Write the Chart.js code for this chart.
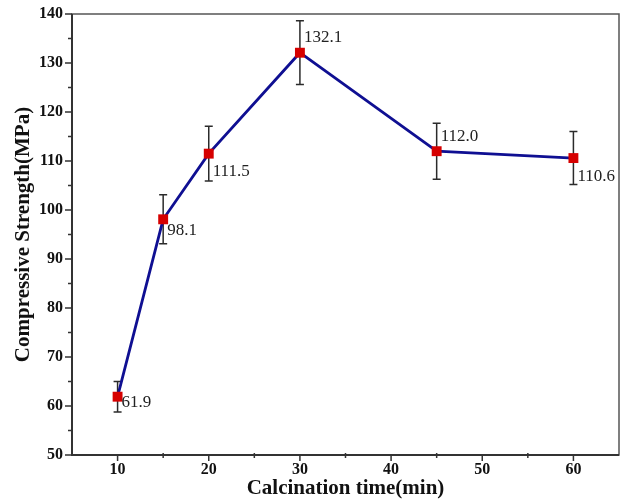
<!DOCTYPE html>
<html>
<head>
<meta charset="utf-8">
<script src="https://cdn.jsdelivr.net/npm/chart.js@4/dist/chart.umd.min.js"></script>
<style>
  html, body { margin: 0; padding: 0; background: #fff; }
  #wrap { width: 628px; height: 499px; }
</style>
</head>
<body>
<div id="wrap"><canvas id="chart"></canvas></div>
<script>
// Data
const times = [10, 15, 20, 30, 45, 60];
const strength = [61.9, 98.1, 111.5, 132.1, 112.0, 110.6];
const errors = [3.1, 5.0, 5.6, 6.5, 5.7, 5.4];
const xTicks = [10, 20, 30, 40, 50, 60];
const yTicks = [50, 60, 70, 80, 90, 100, 110, 120, 130, 140];
const xMinor = [15, 25, 35, 45, 55];
const yMinor = [55, 65, 75, 85, 95, 105, 115, 125, 135];

// where the value label sits next to each point
const labelSide = ['right', 'below', 'below', 'above', 'above', 'below'];

const serif = '"Liberation Serif", "DejaVu Serif", serif';

// error bars, under the markers
const errorBars = {
    id: 'errorBars',
    beforeDatasetsDraw(chart) {
        const { ctx, scales: { x, y } } = chart;
        ctx.save();
        ctx.strokeStyle = '#2b2b2b';
        ctx.lineWidth = 1.5;
        times.forEach((t, i) => {
            const px = x.getPixelForValue(t);
            const top = y.getPixelForValue(strength[i] + errors[i]);
            const bot = y.getPixelForValue(strength[i] - errors[i]);
            ctx.beginPath();
            ctx.moveTo(px, top); ctx.lineTo(px, bot);
            ctx.moveTo(px - 4, top); ctx.lineTo(px + 4, top);
            ctx.moveTo(px - 4, bot); ctx.lineTo(px + 4, bot);
            ctx.stroke();
        });
        ctx.restore();
    }
};

// frame, tick marks and value labels
const frameAndLabels = {
    id: 'frameAndLabels',
    afterDatasetsDraw(chart) {
        const { ctx, chartArea: a, scales: { x, y } } = chart;
        ctx.save();
        ctx.strokeStyle = '#555';
        ctx.lineWidth = 1.5;
        ctx.strokeRect(a.left, a.top, a.right - a.left, a.bottom - a.top);
        ctx.strokeStyle = '#333';
        ctx.lineWidth = 2;
        ctx.beginPath();
        ctx.moveTo(a.left, a.top); ctx.lineTo(a.left, a.bottom); ctx.lineTo(a.right, a.bottom);
        ctx.stroke();

        ctx.lineWidth = 1.5;
        ctx.beginPath();
        yTicks.forEach(v => { const py = y.getPixelForValue(v); ctx.moveTo(a.left, py); ctx.lineTo(a.left - 7, py); });
        yMinor.forEach(v => { const py = y.getPixelForValue(v); ctx.moveTo(a.left, py); ctx.lineTo(a.left - 4, py); });
        xTicks.forEach(v => { const px = x.getPixelForValue(v); ctx.moveTo(px, a.bottom); ctx.lineTo(px, a.bottom + 6); });
        xMinor.forEach(v => { const px = x.getPixelForValue(v); ctx.moveTo(px, a.bottom - 2); ctx.lineTo(px, a.bottom + 3); });
        ctx.stroke();

        ctx.fillStyle = '#222';
        ctx.font = '17px ' + serif;
        ctx.textAlign = 'left';
        ctx.textBaseline = 'middle';
        times.forEach((t, i) => {
            const px = x.getPixelForValue(t);
            const py = y.getPixelForValue(strength[i]);
            let dy = 6;
            if (labelSide[i] === 'below') dy = i === 1 ? 11 : 18;
            if (labelSide[i] === 'above') dy = -15;
            ctx.fillText(strength[i].toFixed(1), px + 4, py + dy);
        });
        ctx.restore();
    }
};

const ctx = document.getElementById('chart').getContext('2d');
new Chart(ctx, {
    type: 'scatter',
    data: {
        datasets: [{
            data: times.map((t, i) => ({ x: t, y: strength[i] })),
            showLine: true,
            borderColor: '#0f0f92',
            borderWidth: 2.8,
            pointStyle: 'rect',
            pointRadius: 7,
            pointBackgroundColor: '#d60000',
            pointBorderColor: '#d60000',
            pointBorderWidth: 0,
            tension: 0
        }]
    },
    options: {
        responsive: true,
        maintainAspectRatio: false,
        animation: false,
        layout: { padding: { top: 14, right: 9, left: 0, bottom: 0 } },
        plugins: { legend: { display: false }, tooltip: { enabled: false } },
        scales: {
            x: {
                type: 'linear',
                min: 5,
                max: 65,
                afterBuildTicks: s => { s.ticks = xTicks.map(v => ({ value: v })); },
                afterFit: s => { s.height = 44; },
                grid: { display: false },
                border: { display: false },
                ticks: {
                    padding: -3,
                    color: '#111',
                    font: { family: serif, size: 16, weight: 'bold' }
                },
                title: {
                    display: true,
                    text: 'Calcination time(min)',
                    color: '#111',
                    font: { family: serif, size: 21, weight: 'bold', lineHeight: 1 },
                    padding: { top: 0, bottom: 0 }
                }
            },
            y: {
                min: 50,
                max: 140,
                afterBuildTicks: s => { s.ticks = yTicks.map(v => ({ value: v })); },
                afterFit: s => { s.width = 72; },
                grid: { display: false },
                border: { display: false },
                ticks: {
                    padding: 1,
                    color: '#111',
                    font: { family: serif, size: 16, weight: 'bold' }
                },
                title: {
                    display: true,
                    text: 'Compressive Strength(MPa)',
                    color: '#111',
                    font: { family: serif, size: 21, weight: 'bold', lineHeight: 1 },
                    padding: { top: 13, bottom: 0 }
                }
            }
        }
    },
    plugins: [errorBars, frameAndLabels]
});
</script>
</body>
</html>
